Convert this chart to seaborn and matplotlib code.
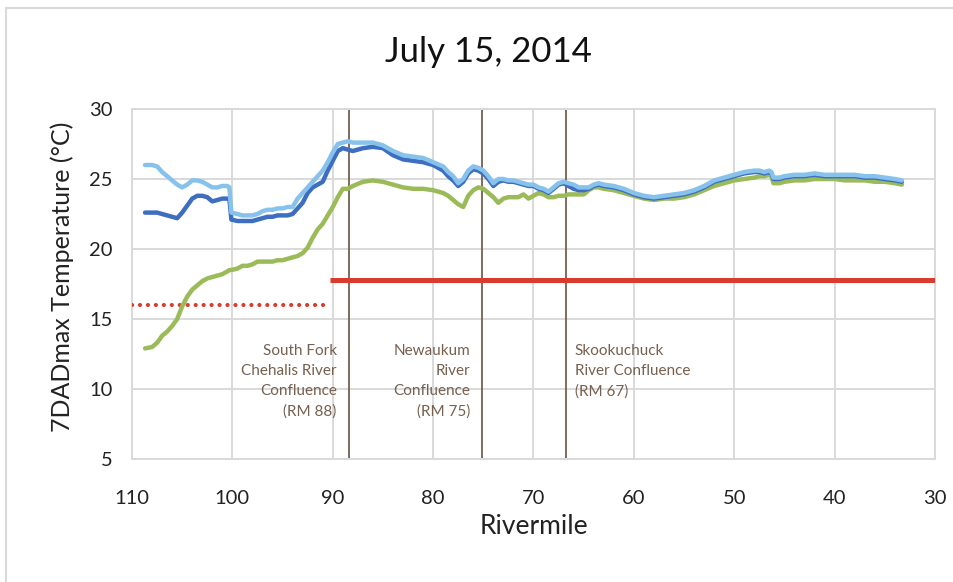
"""
July 15, 2014 7DADmax temperature profile along the river (rivermile 110 -> 30).
"""

import matplotlib
matplotlib.use('Agg')
import matplotlib.pyplot as plt
from matplotlib.patches import Rectangle
import seaborn as sns

# --- data ---
RIVERMILE = [
    108.7, 108.0, 107.5, 107.0, 106.5, 106.0, 105.5, 105.0, 104.5, 104.0,
    103.5, 103.0, 102.5, 102.0, 101.5, 101.0, 100.5, 100.3, 100.1, 99.5,
    99.0, 98.5, 98.0, 97.5, 97.0, 96.5, 96.0, 95.5, 95.0, 94.5,
    94.0, 93.5, 93.0, 92.5, 92.0, 91.5, 91.0, 90.5, 90.0, 89.5,
    89.0, 88.5, 88.0, 87.0, 86.0, 85.0, 84.0, 83.0, 82.0, 81.0,
    80.0, 79.0, 78.5, 78.0, 77.5, 77.0, 76.5, 76.0, 75.5, 75.0,
    74.5, 74.0, 73.5, 73.0, 72.5, 72.0, 71.5, 71.0, 70.5, 70.0,
    69.5, 69.0, 68.5, 68.0, 67.5, 67.0, 66.5, 66.0, 65.5, 65.0,
    64.5, 64.0, 63.5, 63.0, 62.0, 61.0, 60.0, 59.0, 58.0, 57.0,
    56.0, 55.0, 54.0, 53.0, 52.0, 51.0, 50.0, 49.0, 48.0, 47.5,
    47.0, 46.5, 46.3, 46.1, 45.5, 45.0, 44.0, 43.0, 42.0, 41.0,
    40.0, 39.0, 38.0, 37.0, 36.0, 35.0, 34.0, 33.3,
]

TEMP_LIGHT = [
    26.0, 26.0, 25.9, 25.5, 25.2, 24.9, 24.6, 24.4, 24.6, 24.9,
    24.9, 24.8, 24.6, 24.4, 24.4, 24.5, 24.5, 24.4, 22.6, 22.5,
    22.4, 22.4, 22.4, 22.5, 22.7, 22.8, 22.8, 22.9, 22.9, 23.0,
    23.0, 23.6, 24.0, 24.4, 24.8, 25.2, 25.6, 26.2, 26.9, 27.5,
    27.6, 27.7, 27.6, 27.6, 27.6, 27.4, 27.0, 26.7, 26.6, 26.5,
    26.2, 25.9, 25.5, 25.2, 24.7, 25.0, 25.6, 25.9, 25.8, 25.6,
    25.2, 24.7, 25.0, 25.0, 24.9, 24.9, 24.8, 24.7, 24.6, 24.6,
    24.4, 24.3, 24.1, 24.4, 24.7, 24.8, 24.7, 24.6, 24.4, 24.4,
    24.4, 24.6, 24.7, 24.6, 24.5, 24.3, 24.0, 23.8, 23.7, 23.8,
    23.9, 24.0, 24.2, 24.5, 24.9, 25.1, 25.3, 25.5, 25.6, 25.6,
    25.5, 25.6, 25.5, 25.1, 25.1, 25.2, 25.3, 25.3, 25.4, 25.3,
    25.3, 25.3, 25.3, 25.2, 25.2, 25.1, 25.0, 24.9,
]

TEMP_DARK = [
    22.6, 22.6, 22.6, 22.5, 22.4, 22.3, 22.2, 22.6, 23.1, 23.6,
    23.8, 23.8, 23.7, 23.4, 23.5, 23.6, 23.6, 23.6, 22.1, 22.0,
    22.0, 22.0, 22.0, 22.1, 22.2, 22.3, 22.3, 22.4, 22.4, 22.4,
    22.5, 22.9, 23.3, 24.0, 24.4, 24.6, 24.8, 25.6, 26.3, 27.0,
    27.2, 27.1, 27.0, 27.2, 27.3, 27.2, 26.7, 26.4, 26.3, 26.2,
    26.0, 25.6, 25.2, 24.9, 24.5, 24.8, 25.4, 25.7, 25.6, 25.4,
    25.0, 24.5, 24.8, 24.9, 24.8, 24.8, 24.7, 24.6, 24.5, 24.5,
    24.3, 24.2, 24.0, 24.3, 24.6, 24.7, 24.5, 24.3, 24.2, 24.2,
    24.3, 24.5, 24.6, 24.5, 24.4, 24.2, 23.9, 23.7, 23.6, 23.7,
    23.8, 23.9, 24.1, 24.4, 24.8, 25.0, 25.2, 25.4, 25.5, 25.5,
    25.4, 25.5, 25.4, 25.0, 25.0, 25.1, 25.2, 25.2, 25.3, 25.2,
    25.2, 25.2, 25.2, 25.1, 25.1, 25.0, 24.9, 24.8,
]

TEMP_GREEN = [
    12.9, 13.0, 13.3, 13.8, 14.1, 14.5, 15.0, 15.9, 16.6, 17.1,
    17.4, 17.7, 17.9, 18.0, 18.1, 18.2, 18.4, 18.5, 18.5, 18.6,
    18.8, 18.8, 18.9, 19.1, 19.1, 19.1, 19.1, 19.2, 19.2, 19.3,
    19.4, 19.5, 19.7, 20.1, 20.8, 21.4, 21.8, 22.4, 23.0, 23.7,
    24.3, 24.3, 24.5, 24.8, 24.9, 24.8, 24.6, 24.4, 24.3, 24.3,
    24.2, 24.0, 23.8, 23.5, 23.2, 23.0, 23.8, 24.2, 24.4, 24.3,
    24.0, 23.7, 23.3, 23.6, 23.7, 23.7, 23.7, 23.9, 23.6, 23.8,
    24.0, 23.9, 23.7, 23.7, 23.8, 23.8, 23.9, 23.9, 23.9, 23.9,
    24.2, 24.4, 24.4, 24.3, 24.2, 24.0, 23.8, 23.6, 23.5, 23.6,
    23.6, 23.7, 23.9, 24.2, 24.5, 24.7, 24.9, 25.0, 25.1, 25.2,
    25.2, 25.3, 25.2, 24.7, 24.7, 24.8, 24.9, 24.9, 25.0, 25.0,
    25.0, 24.9, 24.9, 24.9, 24.8, 24.8, 24.7, 24.6,
]

# temperature criteria
CRITERION_SOLID_RM = [90.3, 30.0]
CRITERION_SOLID_TEMP = [17.8, 17.8]
CRITERION_DOTTED_RM = [110.0, 90.3]
CRITERION_DOTTED_TEMP = [16.0, 16.0]

# tributary confluences
CONFLUENCE_RM = [88.4, 75.1, 66.8]
CONFLUENCE_LABELS = [
    'South Fork\nChehalis River\nConfluence\n(RM 88)',
    'Newaukum\nRiver\nConfluence\n(RM 75)',
    'Skookuchuck\nRiver Confluence\n(RM 67)',
]

X_TICKS = [110, 100, 90, 80, 70, 60, 50, 40, 30]
Y_TICKS = [5, 10, 15, 20, 25, 30]

# --- style ---
sns.set_style('white')
plt.rcParams['font.family'] = ['Lato', 'DejaVu Sans']

GRID = '#D9D9D9'
BROWN = '#76604E'

fig = plt.figure(figsize=(9.54, 5.82), dpi=100)
ax = fig.add_axes([132 / 954, 1 - 459 / 582, 803 / 954, 350 / 582])

# outer chart frame
fig.add_artist(Rectangle((6 / 954, -0.05), 1.2, 1 - 8 / 582 + 0.05,
                         transform=fig.transFigure, fill=False,
                         edgecolor=GRID, linewidth=1.5))

for rm in CONFLUENCE_RM:
    ax.axvline(rm, color=BROWN, linewidth=1.3, zorder=2)

ax.plot(CRITERION_DOTTED_RM, CRITERION_DOTTED_TEMP, color='#D93B2E',
        linewidth=3, linestyle=(0, (0.01, 1.9)), dash_capstyle='round', zorder=3)
ax.plot(CRITERION_SOLID_RM, CRITERION_SOLID_TEMP, color='#D93B2E',
        linewidth=3.6, solid_capstyle='butt', zorder=3)

sns.lineplot(x=RIVERMILE, y=TEMP_GREEN, ax=ax, color='#9BBB59',
             linewidth=3.2, estimator=None, zorder=4)
sns.lineplot(x=RIVERMILE, y=TEMP_DARK, ax=ax, color='#3E6EBF',
             linewidth=3.2, estimator=None, zorder=5)
sns.lineplot(x=RIVERMILE, y=TEMP_LIGHT, ax=ax, color='#86C2EC',
             linewidth=3.2, estimator=None, zorder=6)

ax.set_xlim(110, 30)
ax.set_ylim(5, 30)
ax.set_xticks(X_TICKS)
ax.set_yticks(Y_TICKS)
ax.grid(True, color=GRID, linewidth=1.4, zorder=0)
ax.set_axisbelow(True)
for s in ax.spines.values():
    s.set_color(GRID)
    s.set_linewidth(1.4)
ax.tick_params(axis='both', length=0, labelsize=14.5, colors='#222222')
ax.tick_params(axis='x', pad=22)
ax.tick_params(axis='y', pad=14)

for rm, label, ha, xoff in zip(CONFLUENCE_RM, CONFLUENCE_LABELS,
                               ['right', 'right', 'left'], [1.2, 1.2, -0.9]):
    ax.text(rm + xoff, 13.2, label, ha=ha, va='top', fontsize=11,
            color=BROWN, linespacing=1.55)

ax.set_xlabel('Rivermile', fontsize=19, color='#222222', va='center')
ax.xaxis.set_label_coords(0.5, -0.194)
ax.set_ylabel('7DADmax Temperature (°C)', fontsize=18, color='#222222', va='center')
ax.yaxis.set_label_coords(-0.087, 0.52)

fig.text(488 / 954, 1 - 52 / 582, 'July 15, 2014', ha='center', va='center',
         fontsize=25, color='#111111')

fig.savefig('out.png', dpi=100)
